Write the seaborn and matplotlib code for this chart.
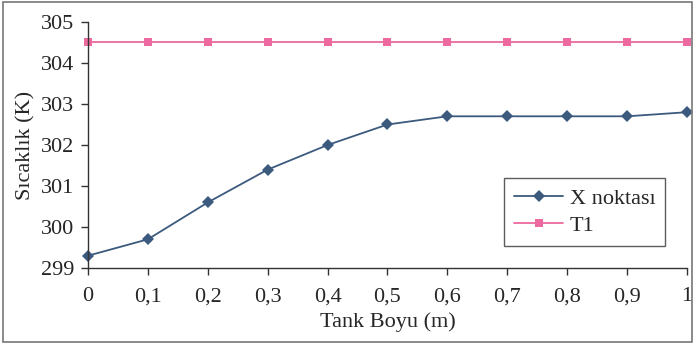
import matplotlib
matplotlib.use("Agg")
import matplotlib.pyplot as plt
import seaborn as sns
import pandas as pd
from matplotlib.patches import Rectangle

x_vals = [0, 0.1, 0.2, 0.3, 0.4, 0.5, 0.6, 0.7, 0.8, 0.9, 1.0]
x_noktasi = [299.3, 299.7, 300.6, 301.4, 302.0, 302.5, 302.7, 302.7, 302.7, 302.7, 302.8]
t1 = [304.5] * 11
x_tick_labels = ["0", "0,1", "0,2", "0,3", "0,4", "0,5", "0,6", "0,7", "0,8", "0,9", "1"]
y_ticks = [299, 300, 301, 302, 303, 304, 305]

sns.set_style("white")
plt.rcParams['font.family'] = ['Liberation Serif', 'DejaVu Serif']

df = pd.concat([
    pd.DataFrame({"x": x_vals, "y": x_noktasi, "series": "X noktası"}),
    pd.DataFrame({"x": x_vals, "y": t1, "series": "T1"}),
])

fig = plt.figure(figsize=(6.95, 3.45), dpi=100)
ax = fig.add_axes([88/695, 1-268/345, (687-88)/695, (268-22)/345])

palette = {"X noktası": "#3b5a7e", "T1": "#ec6a9f"}
sns.lineplot(data=df, x="x", y="y", hue="series", style="series",
             markers={"X noktası": "D", "T1": "s"}, dashes=False,
             palette=palette, ax=ax, linewidth=1.3, markersize=6,
             markeredgewidth=0)

ax.set_xlim(0, 1)
ax.set_ylim(299, 305)
ax.set_xticks(x_vals)
ax.set_xticklabels(x_tick_labels)
ax.set_yticks(y_ticks)
ax.tick_params(axis='both', labelsize=16, length=5, width=1, color='#333333',
               direction='out', bottom=True, left=True, pad=5)
ax.tick_params(axis='x', pad=9)
for s in ['top', 'right']:
    ax.spines[s].set_visible(False)
for s in ['left', 'bottom']:
    ax.spines[s].set_color('#333333')
    ax.spines[s].set_linewidth(1)
for line in ax.lines:
    line.set_clip_on(False)

ax.set_xlabel("Tank Boyu (m)", fontsize=16, labelpad=4)
ax.set_ylabel("Sıcaklık (K)", fontsize=16, labelpad=4)

leg = ax.legend(loc='upper left', bbox_to_anchor=(0.695, 0.366), fontsize=16,
                frameon=True, fancybox=False, edgecolor='#333333',
                handlelength=2.2, handletextpad=0.3, borderpad=0.45,
                labelspacing=0.3, borderaxespad=0)
leg.get_frame().set_linewidth(1)

fig.patches.append(Rectangle((0.004, 0.01), 0.992, 0.985, transform=fig.transFigure,
                             fill=False, edgecolor='#777777', linewidth=1.2))

fig.savefig("out.png", dpi=100)
